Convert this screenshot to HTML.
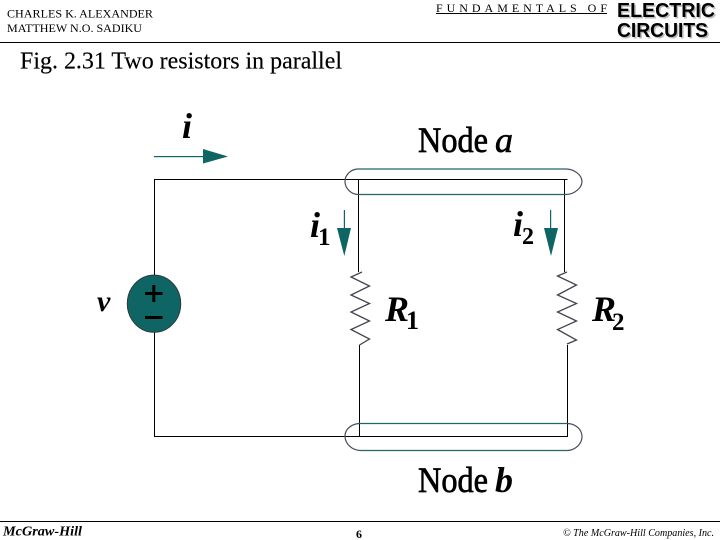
<!DOCTYPE html>
<html><head><meta charset="utf-8"><style>
html,body{margin:0;padding:0;background:#fff;width:720px;height:540px;overflow:hidden}
svg{display:block}
text{font-family:"Liberation Serif",serif;fill:#000}
.b{font-weight:bold}.i{font-style:italic}
.s{font-family:"Liberation Sans",sans-serif;font-weight:bold}
.sh{fill:#bbb}
</style></head><body>
<svg width="720" height="540" viewBox="0 0 720 540" xmlns="http://www.w3.org/2000/svg">
<text x="7" y="17.5" font-size="12" textLength="146" lengthAdjust="spacingAndGlyphs">CHARLES K. ALEXANDER</text>
<text x="7" y="32" font-size="12" textLength="135" lengthAdjust="spacingAndGlyphs">MATTHEW N.O. SADIKU</text>
<text x="436" y="12" font-size="12" textLength="171" lengthAdjust="spacing">FUNDAMENTALS OF</text>
<line x1="436" y1="13.5" x2="607" y2="13.5" stroke="#000" stroke-width="1"/>
<text x="618.5" y="18.5" font-size="20" class="s sh" textLength="98" lengthAdjust="spacingAndGlyphs">ELECTRIC</text>
<text x="618.5" y="38.5" font-size="20" class="s sh" textLength="91" lengthAdjust="spacingAndGlyphs">CIRCUITS</text>
<text x="617" y="17" font-size="20" class="s" textLength="98" lengthAdjust="spacingAndGlyphs">ELECTRIC</text>
<text x="617" y="37" font-size="20" class="s" textLength="91" lengthAdjust="spacingAndGlyphs">CIRCUITS</text>
<line x1="0" y1="42.5" x2="720" y2="42.5" stroke="#000"/>
<text x="20" y="68.5" font-size="24" stroke="#000" stroke-width=".15" textLength="322" lengthAdjust="spacingAndGlyphs">Fig. 2.31 Two resistors in parallel</text>

<!-- wires -->
<g fill="none" stroke="#000" stroke-width="1">
<path d="M154.5 280V179.5H567.5"/>
<path d="M154.5 328V436.5H567.5V345"/>
<path d="M358.5 179.5V272"/>
<path d="M359.5 345V436.5"/>
<path d="M564.5 179.5V272"/>
</g>
<!-- resistors -->
<g fill="none" stroke="#444450" stroke-width="1.3">
<path d="M362 272L351 277L369.5 286L351 295L369.5 303.5L351 312L369.5 321L351 329.5L369.5 339L359.5 345"/>
<path d="M567 272L557.5 276L576.5 285L557.5 295L576.5 303.5L557.5 312L576.5 321L557.5 329.5L576.5 340L567 344"/>
</g>
<!-- node outlines -->
<g fill="none" stroke-width="1.2">
<path d="M358 169H566" stroke="#1f6666"/>
<path d="M358 194.5H566" stroke="#1f6666"/>
<path d="M358 169C352 169 345 174 345 181.5C345 189 352 194.5 358 194.5" stroke="#4a4a5a"/>
<path d="M566 169C574 169 582 175 582 181.5C582 188 574 194.5 566 194.5" stroke="#4a4a5a"/>
<path d="M360 423.5H567" stroke="#1f6666"/>
<path d="M360 450.5H567" stroke="#1f6666"/>
<path d="M360 423.5C352 423.5 345 429 345 436C345 444 352 450 360 450.5" stroke="#4a4a5a"/>
<path d="M567 423.5C575 423.5 582 429 582 436.5C582 444 575 450.5 567 450.5" stroke="#4a4a5a"/>
</g>
<!-- arrows -->
<g fill="#0f6464" stroke="none">
<rect x="154" y="156" width="50" height="1.2"/>
<path d="M203 149L228 156.5L203 163.5Z"/>
<rect x="343.8" y="210" width="1.2" height="19"/>
<path d="M337 228H351L344.3 256Z"/>
<rect x="550" y="210" width="1.2" height="19"/>
<path d="M544 228H558L551 256Z"/>
</g>
<!-- source -->
<ellipse cx="154" cy="303.7" rx="26.7" ry="28.6" fill="#0f6464" stroke="#2a3a3a" stroke-width="1"/>
<path d="M145 293.5H162.5M153.8 285V302M145 317.5H162.5" stroke="#000" stroke-width="3" fill="none"/>

<!-- labels -->
<text x="182" y="138" font-size="36" class="b i">i</text>
<text x="310" y="237" font-size="36" class="b i">i</text>
<text x="318" y="245" font-size="25" class="b">1</text>
<text x="513" y="236" font-size="36" class="b i">i</text>
<text x="522" y="244" font-size="24" class="b">2</text>
<text x="97" y="311" font-size="30" class="b i">v</text>
<text x="385" y="321" font-size="36" class="b i">R</text>
<text x="406" y="329" font-size="26" class="b">1</text>
<text x="592" y="321" font-size="36" class="b i">R</text>
<text x="612" y="330" font-size="25" class="b">2</text>
<text x="418" y="152" font-size="36" stroke="#000" stroke-width=".7" textLength="70" lengthAdjust="spacingAndGlyphs">Node</text>
<text x="495" y="152" font-size="36" class="i" stroke="#000" stroke-width=".6">a</text>
<text x="418" y="492" font-size="36" stroke="#000" stroke-width=".7" textLength="70" lengthAdjust="spacingAndGlyphs">Node</text>
<text x="495" y="492" font-size="36" class="b i">b</text>

<line x1="0" y1="521.5" x2="720" y2="521.5" stroke="#000"/>
<text x="3" y="535.5" font-size="14" class="b i" textLength="79" lengthAdjust="spacingAndGlyphs">McGraw-Hill</text>
<text x="356" y="538" font-size="12" class="b">6</text>
<text x="563" y="536" font-size="10.5" class="i" textLength="151" lengthAdjust="spacingAndGlyphs">© The McGraw-Hill Companies, Inc.</text>
</svg>
</body></html>
